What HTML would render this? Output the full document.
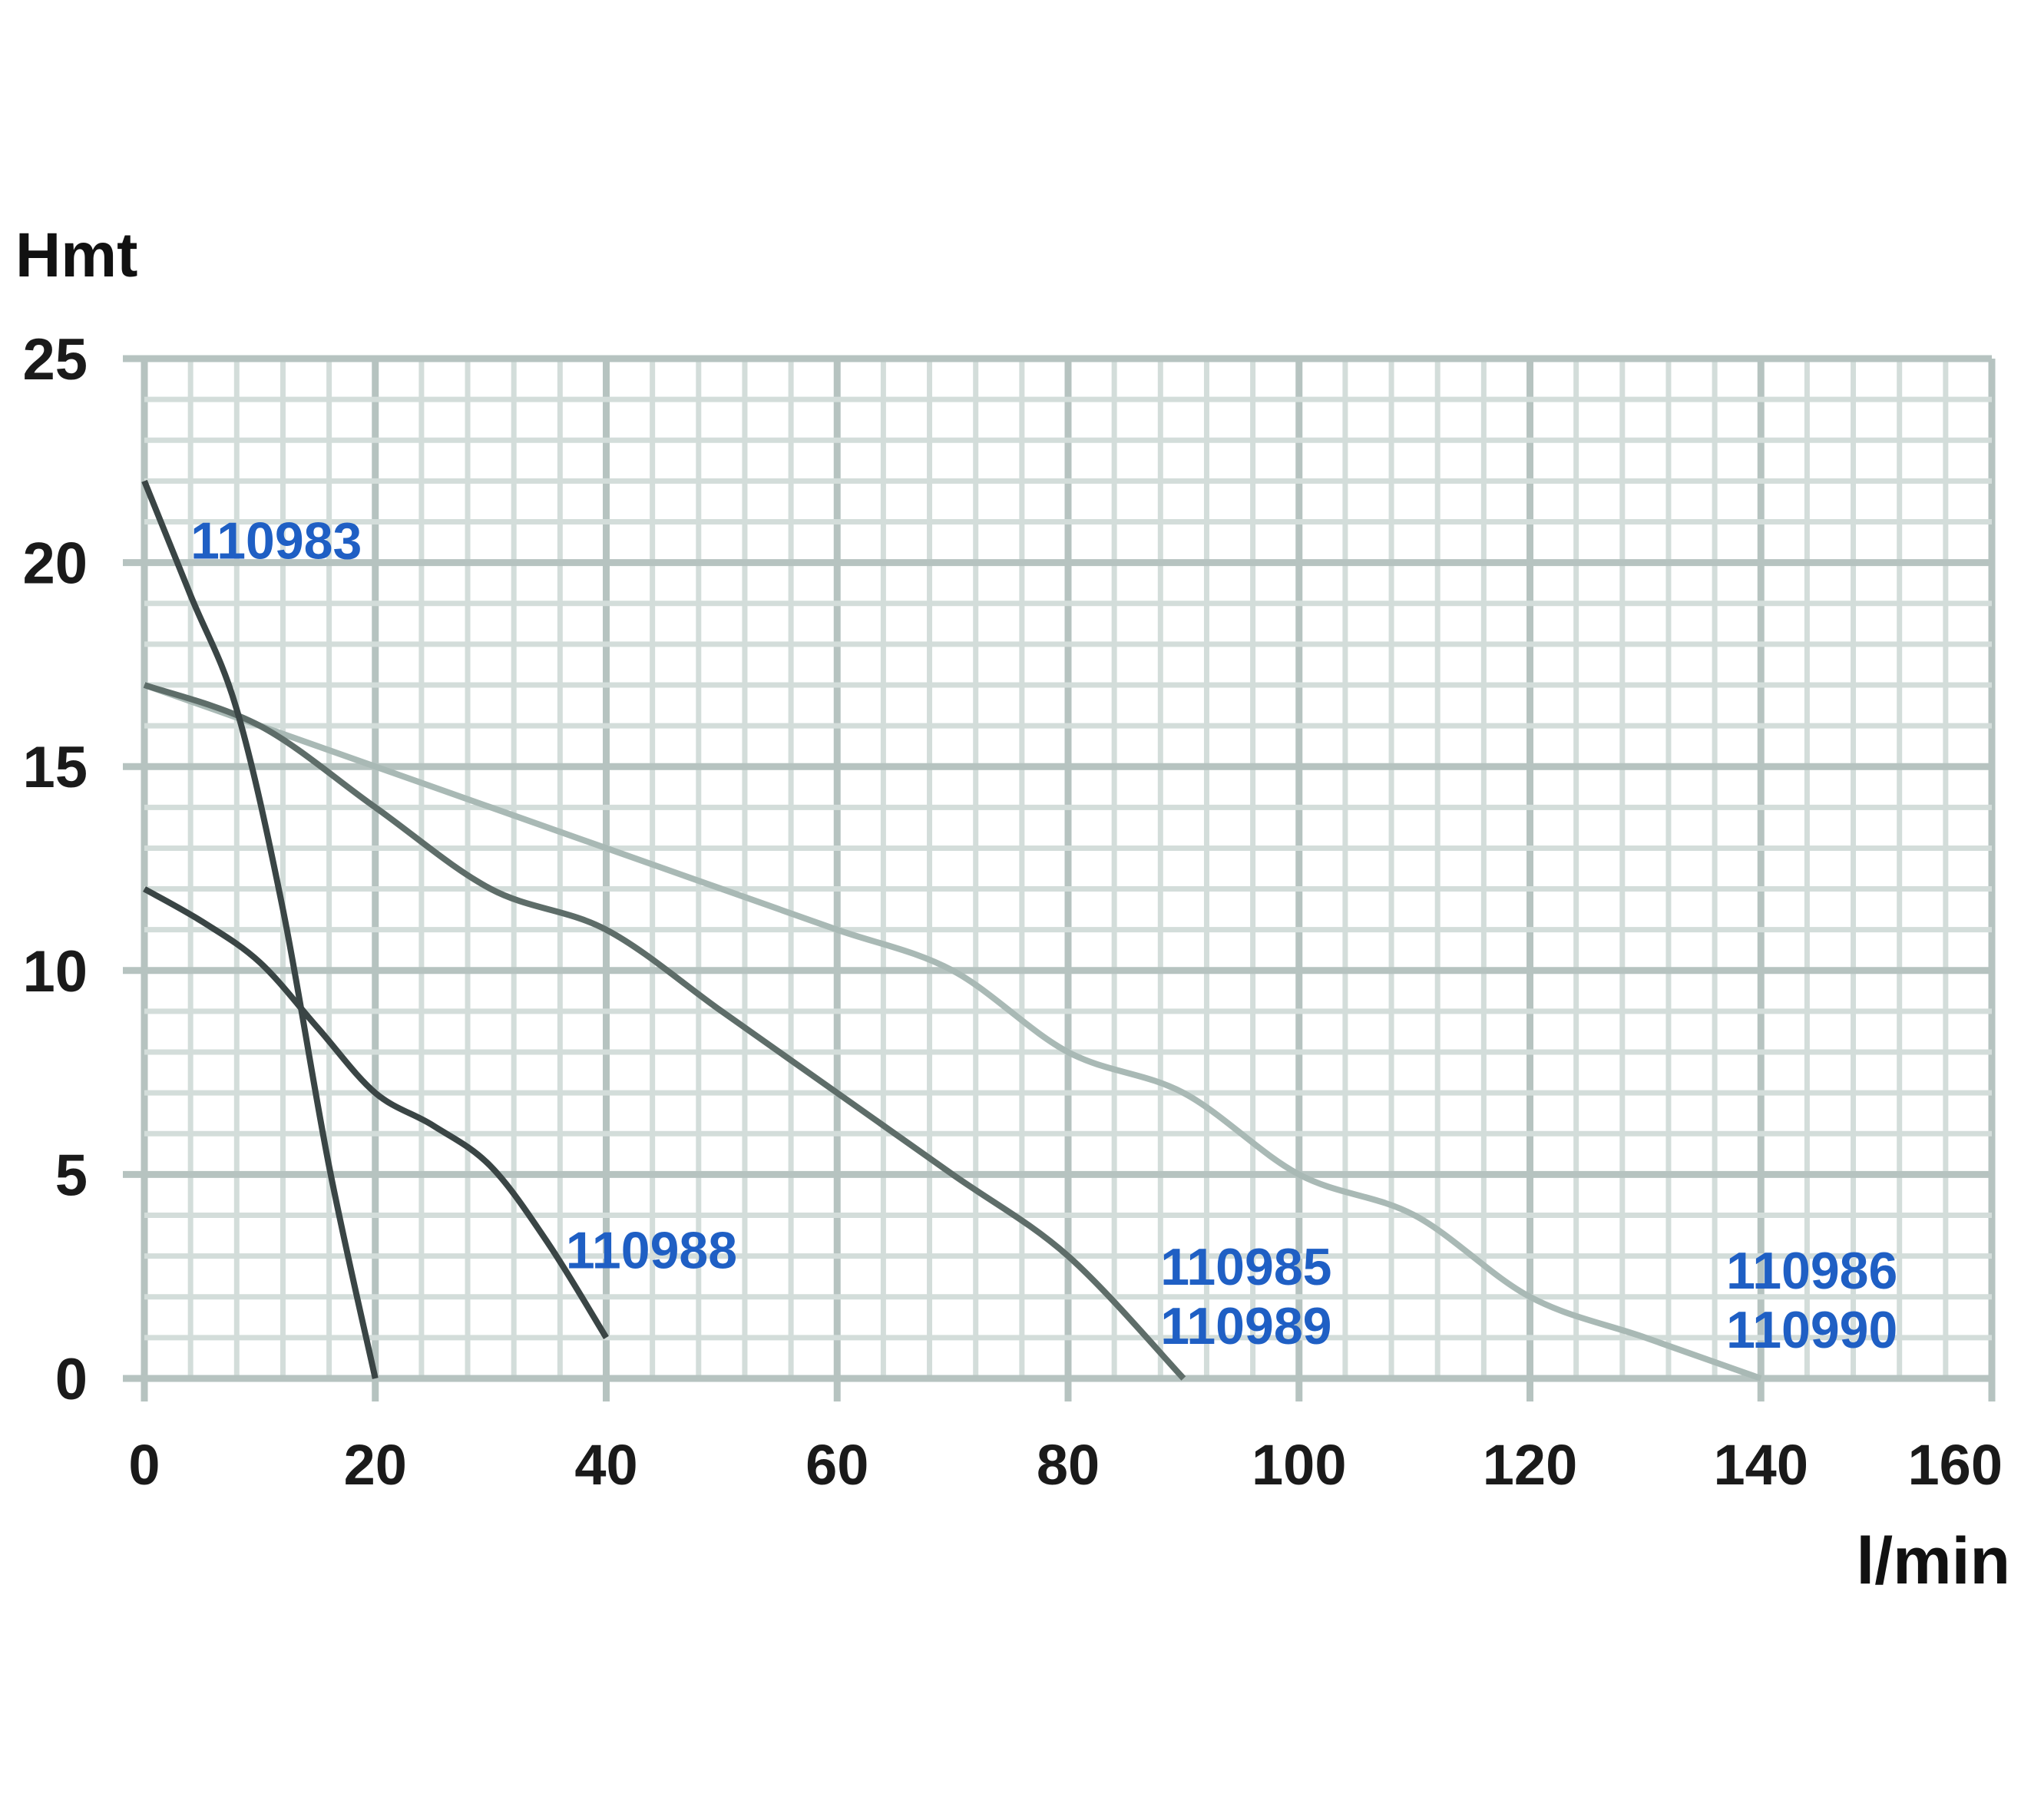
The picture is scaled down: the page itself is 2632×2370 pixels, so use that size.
<!DOCTYPE html>
<html><head><meta charset="utf-8"><style>
html,body{margin:0;padding:0;background:#fff;}
svg{display:block;font-family:"Liberation Sans",sans-serif;}
</style></head><body>
<svg id="chart" width="2632" height="2370" viewBox="0 0 2632 2370" xmlns="http://www.w3.org/2000/svg">
<rect width="2632" height="2370" fill="#fff"/>
<g id="grid"></g>
<g id="series"></g>
<g id="labels"></g>
<text x="20" y="360" font-size="82" font-weight="bold" fill="#111">Hmt</text>
<text x="2618" y="2062" font-size="86" font-weight="bold" fill="#111" text-anchor="end">l/min</text>
</svg>
<script>
const xTicks = [0,20,40,60,80,100,120,140,160];
const yTicks = [0,5,10,15,20,25];
const seriesNames = ["110983","110988","110985","110986"];
const s110983 = [[0,22],[4,19.2],[8,16.4],[12,11.5],[16,5.2],[20,0]];
const s110988 = [[0,12],[5,11.2],[10,10.2],[15,8.6],[20,7],[25,6.2],[30,5.2],[35,3.3],[40,1]];
const s110985 = [[0,17],[10,16],[20,14],[30,12],[40,11],[50,9],[60,7],[70,5],[80,3],[90,0]];
const s110986 = [[0,17],[10,16],[20,15],[30,14],[40,13],[50,12],[60,11],[70,10],[80,8],[90,7],[100,5],[110,4],[120,2],[130,1],[140,0]];
const seriesLabels = [["110983",4,20.1],["110988",36.5,2.7],["110985",88,2.3],["110989",88,0.85],["110986",137,2.2],["110990",137,0.75]];

const X0=188, X1=2594, Y0=1795, Y1=467;
const xs = v => X0 + (v/160)*(X1-X0);
const ys = v => Y0 - (v/25)*(Y0-Y1);
const NS="http://www.w3.org/2000/svg";
function mk(tag, attrs, parent){const e=document.createElementNS(NS,tag);for(const k in attrs)e.setAttribute(k,attrs[k]);parent.appendChild(e);return e;}
const grid=document.getElementById('grid');
for(let v=0; v<=160; v+=4){
  const major = v%20===0;
  const l=mk('line',{x1:xs(v),x2:xs(v),y1:Y1,y2:major?Y0+30:Y0,stroke:major?'#b6c3c0':'#d3ddda','stroke-width':major?9:7},grid);
  
  
}
for(let v=0; v<=25; v+=1){
  const major = v%5===0;
  const l=mk('line',{x1:major?X0-28:X0,x2:X1,y1:ys(v),y2:ys(v),stroke:major?'#b6c3c0':'#d3ddda','stroke-width':major?9:7},grid);
  
  
}
const labels=document.getElementById('labels');
xTicks.forEach(t=>{
  const last = t===160;
  const e=mk('text',{x:last?2608:xs(t),y:1933,'font-size':74,'font-weight':'bold',fill:'#1a1a1a','text-anchor':last?'end':'middle'},labels);
  e.textContent=t;
  
  
});
yTicks.forEach(t=>{
  const e=mk('text',{x:114,y:ys(t)+27,'font-size':76,'font-weight':'bold',fill:'#1a1a1a','text-anchor':'end'},labels);
  e.textContent=t;
  
  
});
function path(pts){
  const p=pts.map(d=>[xs(d[0]),ys(d[1])]);
  let s=`M${p[0][0]},${p[0][1]}`;
  for(let i=0;i<p.length-1;i++){
    const a=p[i-1]||p[i], b=p[i], c=p[i+1], d=p[i+2]||c;
    const c1=[b[0]+(c[0]-a[0])/6,b[1]+(c[1]-a[1])/6], c2=[c[0]-(d[0]-b[0])/6,c[1]-(d[1]-b[1])/6];
    s+=` C${c1[0]},${c1[1]} ${c2[0]},${c2[1]} ${c[0]},${c[1]}`;
  }
  return s;
}
const sg=document.getElementById('series');
const all=[[s110986,'#a9b9b5'],[s110985,'#5e6d69'],[s110988,'#3a4545'],[s110983,'#3a4545']];
all.forEach((a,i)=>{
  const e=mk('path',{d:path(a[0]),fill:'none',stroke:a[1],'stroke-width':8,'stroke-linejoin':'round'},sg);
  
  
});
seriesLabels.forEach(l=>{
  const e=mk('text',{x:xs(l[1]),y:ys(l[2]),'font-size':68,fill:'#1f5fc4','font-weight':'bold'},labels);
  e.textContent=l[0];
  
  
});
</script>
</body></html>
